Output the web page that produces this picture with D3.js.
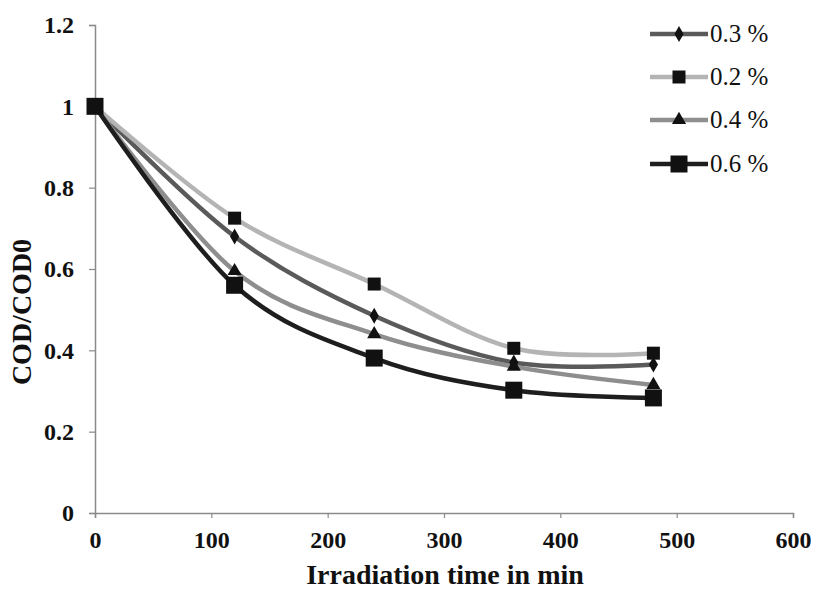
<!DOCTYPE html>
<html>
<head>
<meta charset="utf-8">
<script src="https://cdn.jsdelivr.net/npm/d3@7"></script>
<style>
  body { margin: 0; background: #fff; }
  svg text { font-family: "Liberation Serif", "DejaVu Serif", serif; }
</style>
</head>
<body>
<svg id="chart" width="817" height="589"></svg>
<script>
(function(){

  // data
  var times = [0, 120, 240, 360, 480];
  var series03 = [1, 0.68, 0.485, 0.37, 0.365];
  var series02 = [1, 0.725, 0.563, 0.405, 0.393];
  var series04 = [1, 0.595, 0.44, 0.36, 0.315];
  var series06 = [1, 0.56, 0.381, 0.302, 0.283];
  var seriesNames = ['0.3 %', '0.2 %', '0.4 %', '0.6 %'];
  var xTicks = [0, 100, 200, 300, 400, 500, 600];
  var yTicks = [0, 0.2, 0.4, 0.6, 0.8, 1, 1.2];

  var styles = [
    { color: '#5a5a5a', width: 4.5, marker: 'diamond', size: 11 },
    { color: '#b4b4b4', width: 4.5, marker: 'square', size: 13 },
    { color: '#8e8e8e', width: 4.5, marker: 'triangle', size: 12 },
    { color: '#1e1e1e', width: 4.5, marker: 'square', size: 17 }
  ];
  var allSeries = [series03, series02, series04, series06];

  var svg = d3.select('#chart');

  var x = d3.scaleLinear().domain([0, 600]).range([95, 793]);
  var y = d3.scaleLinear().domain([0, 1.2]).range([513, 25]);

  // axes
  var xAxis = svg.append('g')
    .attr('transform', 'translate(0,' + y(0) + ')')
    .call(d3.axisBottom(x).tickValues(xTicks).tickSize(5).tickPadding(13).tickFormat(d3.format('d')));
  var yAxis = svg.append('g')
    .attr('transform', 'translate(' + x(0) + ',0)')
    .call(d3.axisLeft(y).tickValues(yTicks).tickSize(6).tickPadding(15).tickFormat(function(d) { return d3.format('')(d); }));

  [xAxis, yAxis].forEach(function(ax) {
    ax.select('.domain').attr('stroke', '#8a8a8a').attr('stroke-width', 1.5);
    ax.selectAll('.tick line').attr('stroke', '#8a8a8a').attr('stroke-width', 1.2);
    ax.selectAll('.tick text')
      .attr('fill', '#111')
      .style('font-family', '"Liberation Serif", serif')
      .style('font-weight', 'bold')
      .style('font-size', '24px');
  });

  // axis titles
  svg.append('text')
    .attr('x', 445).attr('y', 584)
    .attr('text-anchor', 'middle')
    .style('font-weight', 'bold').style('font-size', '28px')
    .attr('fill', '#111')
    .text('Irradiation time in min');

  svg.append('text')
    .attr('transform', 'translate(31,312) rotate(-90)')
    .attr('text-anchor', 'middle')
    .style('font-weight', 'bold').style('font-size', '28px')
    .attr('fill', '#111')
    .text('COD/COD0');

  var line = d3.line()
    .x(function(d) { return x(d[0]); })
    .y(function(d) { return y(d[1]); })
    .curve(d3.curveCatmullRom.alpha(0));

  function symbolFor(s) {
    var type = s.marker == 'diamond' ? d3.symbolDiamond : (s.marker == 'triangle' ? d3.symbolTriangle : d3.symbolSquare);
    var area = s.marker == 'square' ? s.size * s.size : s.size * s.size * 0.6;
    return d3.symbol().type(type).size(area)();
  }

  // lines
  allSeries.forEach(function(vals, i) {
    var pts = times.map(function(t, j) { return [t, vals[j]]; });
    svg.append('path')
      .datum(pts)
      .attr('fill', 'none')
      .attr('stroke', styles[i].color)
      .attr('stroke-width', styles[i].width)
      .attr('d', line);
  });

  // markers
  allSeries.forEach(function(vals, i) {
    var pts = times.map(function(t, j) { return [t, vals[j]]; });
    svg.append('g').selectAll('path')
      .data(pts)
      .enter()
      .append('path')
      .attr('d', symbolFor(styles[i]))
      .attr('fill', '#111')
      .attr('transform', function(d) {
        return 'translate(' + x(d[0]) + ',' + y(d[1]) + ')';
      });
  });

  // legend
  var legend = svg.append('g');
  var rowY = [34, 77, 120, 164];
  seriesNames.forEach(function(name, i) {
    var g = legend.append('g').attr('transform', 'translate(0,' + rowY[i] + ')');
    g.append('line')
      .attr('x1', 650).attr('x2', 708)
      .attr('stroke', styles[i].color)
      .attr('stroke-width', styles[i].width);
    g.append('path')
      .attr('d', symbolFor(styles[i]))
      .attr('fill', '#111')
      .attr('transform', 'translate(679,0)');
    g.append('text')
      .attr('x', 710).attr('y', 8)
      .style('font-size', '25px')
      .attr('fill', '#111')
      .text(name);
  });

})();
</script>
</body>
</html>
